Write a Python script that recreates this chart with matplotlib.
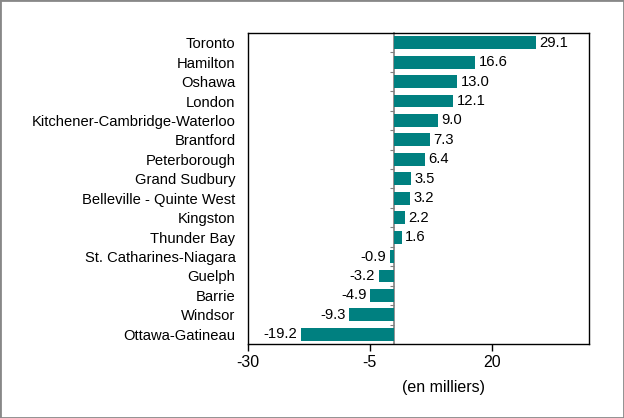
import matplotlib.pyplot as plt
import numpy as np

plt.rcParams['font.family'] = ['Liberation Sans', 'DejaVu Sans']

cities = ['Toronto', 'Hamilton', 'Oshawa', 'London', 'Kitchener-Cambridge-Waterloo',
          'Brantford', 'Peterborough', 'Grand Sudbury', 'Belleville - Quinte West',
          'Kingston', 'Thunder Bay', 'St. Catharines-Niagara', 'Guelph', 'Barrie',
          'Windsor', 'Ottawa-Gatineau']
values = [29.1, 16.6, 13.0, 12.1, 9.0, 7.3, 6.4, 3.5, 3.2, 2.2, 1.6,
          -0.9, -3.2, -4.9, -9.3, -19.2]
xticks = [-30, -5, 20]

fig = plt.figure(figsize=(6.24, 4.18), dpi=100)
ax = fig.add_axes([248 / 624, 1 - 344 / 418, (589 - 248) / 624, (344 - 33) / 418])

y = np.arange(len(cities))
ax.barh(y, values, height=0.66, color='#008080')
ax.set_ylim(len(cities) - 0.5, -0.5)
ax.set_xlim(-30, 40)

ax.set_yticks(y)
ax.set_yticklabels(cities, fontsize=10.6)
ax.tick_params(axis='y', length=0, pad=9)
ax.set_xticks(xticks)
ax.set_xticklabels([str(t) for t in xticks], fontsize=11.5)
ax.tick_params(axis='x', length=5, width=1, pad=3)

for s in ax.spines.values():
    s.set_linewidth(1.0)
    s.set_color('black')

# zero line with category separators
sec = ax.secondary_yaxis(30 / 70)
sec.spines['left'].set_color('#808080')
sec.spines['left'].set_linewidth(1.2)
sec.set_yticks(np.arange(len(cities) - 1) + 0.5)
sec.set_yticklabels([])
sec.tick_params(axis='y', length=3, color='#808080', direction='out')

for yi, v in zip(y, values):
    if v >= 0:
        ax.text(v + 0.7, yi, f'{v:.1f}', va='center', ha='left', fontsize=10.6)
    else:
        ax.text(v - 0.7, yi, f'{v:.1f}', va='center', ha='right', fontsize=10.6)

ax.set_xlabel('(en milliers)', fontsize=11.5)
ax.xaxis.set_label_coords(0.572, -0.115)

border = plt.Rectangle((0, 0), 1, 1, transform=fig.transFigure, fill=False,
                       edgecolor='#888888', linewidth=2)
fig.patches.append(border)

fig.savefig('out.png', dpi=100)
